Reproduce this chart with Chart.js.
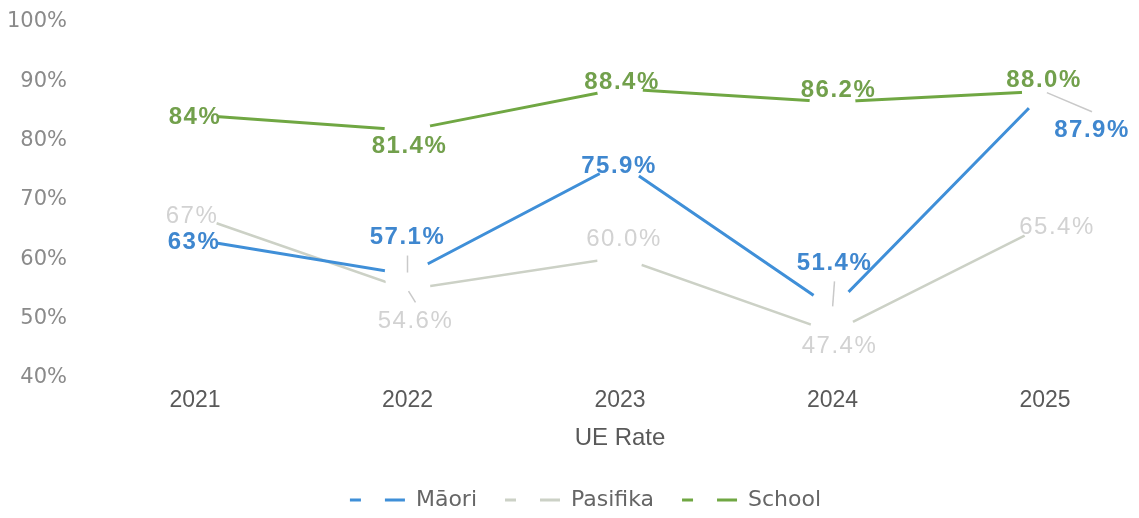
<!DOCTYPE html>
<html>
<head>
<meta charset="utf-8">
<title>UE Rate</title>
<script src="https://cdn.jsdelivr.net/npm/chart.js@4.4.1/dist/chart.umd.min.js"></script>
<style>
  html, body { margin: 0; padding: 0; background: #fff; }
  #wrap { width: 1139px; height: 518px; }
</style>
</head>
<body>
<div id="wrap"><canvas id="ue-chart" width="1139" height="518"></canvas></div>
<script>
const years = ['2021', '2022', '2023', '2024', '2025'];
const maoriRate = [63, 57.1, 75.9, 51.4, 87.9];
const pasifikaRate = [67, 54.6, 60.0, 47.4, 65.4];
const schoolRate = [84, 81.4, 88.4, 86.2, 88.0];
const labelDecimals = [0, 1, 1, 1, 1];
const yTicks = [40, 50, 60, 70, 80, 90, 100];

// where each value label sits relative to its point (px), and whether it gets a leader line
const labelOffsets = {
  maori: [[-1, 3], [0, -37], [-1, 3], [2, -45], [47, 39]],
  pasifika: [[-3, 1], [8, 32], [4, -18], [7, 14], [12, 2]],
  school: [[0, 2], [2, 16], [2, -6], [6, -12], [-1, -11]],
};
const leaders = {
  maori: [false, true, false, true, true],
  pasifika: [false, true, false, false, false],
  school: [false, false, false, false, false],
};

const labelStyle = {
  maori: { color: '#3f87cf', weight: 'bold' },
  pasifika: { color: '#d2d2d2', weight: 'normal' },
  school: { color: '#72a04c', weight: 'bold' },
};

const pointLabels = {
  id: 'pointLabels',
  afterLayout(chart) {
    // small nudge so the legend sits a touch lower and right
    const lg = chart.legend;
    lg.left += 4;
    lg.right += 4;
    lg.top += 3;
    lg.bottom += 3;
  },
  afterDatasetsDraw(chart) {
    const ctx = chart.ctx;
    ctx.save();
    // white gap round every point, like hidden white markers
    ctx.fillStyle = '#ffffff';
    chart.data.datasets.forEach((ds, i) => {
      chart.getDatasetMeta(i).data.forEach((pt) => {
        ctx.beginPath();
        ctx.arc(pt.x, pt.y, 23, 0, Math.PI * 2);
        ctx.fill();
      });
    });

    chart.data.datasets.forEach((ds, i) => {
      const key = ds.key;
      const style = labelStyle[key];
      chart.getDatasetMeta(i).data.forEach((pt, j) => {
        const [dx, dy] = labelOffsets[key][j];
        const lx = pt.x + dx;
        const ly = pt.y + dy;

        if (leaders[key][j]) {
          const endY = ly < pt.y ? ly + 18 : ly - 19;
          const ex = lx;
          const len = Math.hypot(ex - pt.x, endY - pt.y);
          const sx = pt.x + (ex - pt.x) * 2 / len;
          const sy = pt.y + (endY - pt.y) * 2 / len;
          ctx.strokeStyle = '#c9c9c9';
          ctx.lineWidth = 1.5;
          ctx.beginPath();
          ctx.moveTo(sx, sy);
          ctx.lineTo(ex, endY);
          ctx.stroke();
        }

        const v = ds.data[j];
        ctx.font = style.weight + ' 24px "Liberation Sans", Arial, sans-serif';
        ctx.letterSpacing = '1.5px';
        ctx.fillStyle = style.color;
        ctx.textAlign = 'center';
        ctx.textBaseline = 'middle';
        ctx.fillText(v.toFixed(labelDecimals[j]) + '%', lx, ly);
      });
    });
    ctx.restore();
  },
};

new Chart(document.getElementById('ue-chart'), {
  type: 'line',
  data: {
    labels: years,
    datasets: [
      {
        key: 'maori',
        label: 'Māori',
        data: maoriRate,
        borderColor: '#3f8fd8',
        borderWidth: 3,
      },
      {
        key: 'pasifika',
        label: 'Pasifika',
        data: pasifikaRate,
        borderColor: '#ccd1c6',
        borderWidth: 2.5,
      },
      {
        key: 'school',
        label: 'School',
        data: schoolRate,
        borderColor: '#70a743',
        borderWidth: 3,
      },
    ],
  },
  options: {
    responsive: false,
    animation: false,
    events: [],
    elements: {
      point: { radius: 0, hoverRadius: 0 },
      line: { tension: 0 },
    },
    layout: { padding: { left: 0, top: 20, right: 0, bottom: 0 } },
    scales: {
      x: {
        grid: { display: false, drawTicks: false },
        border: { display: false },
        ticks: {
          padding: 11,
          color: '#595959',
          font: { family: '"Liberation Sans", Arial, sans-serif', size: 23 },
        },
        title: {
          display: true,
          text: 'UE Rate',
          color: '#595959',
          font: { family: '"Liberation Sans", Arial, sans-serif', size: 24 },
          padding: { top: 4, bottom: 29 },
        },
        afterFit(scale) {
          scale.paddingRight = 94;
          scale.height = 106;
        },
      },
      y: {
        min: 40,
        max: 100,
        afterBuildTicks(scale) {
          scale.ticks = yTicks.map((v) => ({ value: v }));
        },
        grid: { display: false, drawTicks: false },
        border: { display: false },
        ticks: {
          padding: 128,
          labelOffset: 2,
          color: '#8a8a8a',
          font: { family: '"DejaVu Sans", sans-serif', size: 21 },
          callback: (v) => v + '%',
        },
        afterFit(scale) {
          scale.width = 195;
          scale.paddingTop = 0;
          scale.paddingBottom = 0;
        },
      },
    },
    plugins: {
      tooltip: { enabled: false },
      legend: {
        position: 'bottom',
        labels: {
          usePointStyle: true,
          pointStyle: 'line',
          pointStyleWidth: 79,
          boxHeight: 22,
          padding: 4,
          color: '#666666',
          font: { family: '"DejaVu Sans", sans-serif', size: 22 },
          generateLabels(chart) {
            const items = Chart.defaults.plugins.legend.labels.generateLabels(chart);
            items.forEach((it) => {
              // blank lead-in, then short dash, gap, long dash
              it.lineDash = [0, 24, 11, 24, 20, 100];
              it.lineWidth = 3;
            });
            return items;
          },
        },
      },
    },
  },
  plugins: [pointLabels],
});
</script>
</body>
</html>
